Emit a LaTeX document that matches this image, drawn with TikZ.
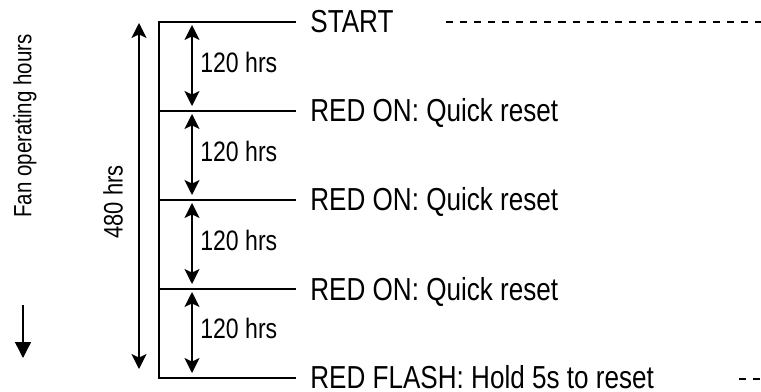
\documentclass[tikz,border=0pt]{standalone}
\usepackage{fontspec}
\setmainfont{Liberation Sans}[FakeStretch=0.82]
\usepackage{tikz}
\usetikzlibrary{arrows.meta, positioning}
\tikzset{%
	mark label/.style={
		inner sep=0pt,
		anchor=base west,
		font=\fontsize{18.1}{20}\selectfont
	},
	span label/.style={
		inner sep=0pt,
		anchor=west,
		font=\fontsize{16}{18}\selectfont
	},
	time line/.style={
		line width=1.5pt
	},
	span arrow/.style={
		line width=0.8pt,
		{Stealth[length=8.5pt,width=8.5pt,inset=2pt]}-{Stealth[length=8.5pt,width=8.5pt,inset=2pt]}
	},
	ghost line/.style={
		line width=0.9pt,
		dash pattern=on 4pt off 4pt
	},
}
\begin{document}
\begin{tikzpicture}
			\useasboundingbox (0,0) rectangle (15.22,7.82);
			
			% Time axis and its marks
			\coordinate (t0) at (3.18,7.38);
			\coordinate (t1) at (3.18,5.60);
			\coordinate (t2) at (3.18,3.82);
			\coordinate (t3) at (3.18,2.04);
			\coordinate (t4) at (3.18,0.26);
			\coordinate (e0) at (5.92,7.38);
			\coordinate (e1) at (5.92,5.60);
			\coordinate (e2) at (5.92,3.82);
			\coordinate (e3) at (5.92,2.04);
			\coordinate (e4) at (5.92,0.26);
			\draw[time line] (e0) -- (t0) -- (t4) -- (e4);
			\draw[time line] (t1) -- (e1);
			\draw[time line] (t2) -- (e2);
			\draw[time line] (t3) -- (e3);
			
			\node[mark label] (start) at (6.2,7.16) {START};
			\node[mark label] (red1) at (6.2,5.38) {RED ON: Quick reset};
			\node[mark label] (red2) at (6.2,3.60) {RED ON: Quick reset};
			\node[mark label] (red3) at (6.2,1.82) {RED ON: Quick reset};
			\node[mark label] (flash) at (6.2,0.06) {RED FLASH: Hold 5s to reset};
			
			% Dashed guides on the right
			\coordinate (g0) at (8.92,7.38);
			\coordinate (g0e) at (15.22,7.38);
			\coordinate (g4) at (14.78,0.24);
			\coordinate (g4e) at (15.22,0.24);
			\draw[ghost line] (g0) -- (g0e);
			\draw[ghost line] (g4) -- (g4e);
			
			% The four 120 hrs spans
			\coordinate (s0a) at (3.84,7.32);
			\coordinate (s0b) at (3.84,5.70);
			\coordinate (s1a) at (3.84,5.54);
			\coordinate (s1b) at (3.84,3.92);
			\coordinate (s2a) at (3.84,3.76);
			\coordinate (s2b) at (3.84,2.14);
			\coordinate (s3a) at (3.84,1.98);
			\coordinate (s3b) at (3.84,0.36);
			\draw[span arrow] (s0a) -- (s0b);
			\draw[span arrow] (s1a) -- (s1b);
			\draw[span arrow] (s2a) -- (s2b);
			\draw[span arrow] (s3a) -- (s3b);
			\node[span label] (h0) at (4.0,6.58) {120 hrs};
			\node[span label] (h1) at (4.0,4.80) {120 hrs};
			\node[span label] (h2) at (4.0,3.02) {120 hrs};
			\node[span label] (h3) at (4.0,1.26) {120 hrs};
			
			% Whole run
			\coordinate (w0) at (2.78,7.36);
			\coordinate (w1) at (2.78,0.44);
			\draw[span arrow] (w0) -- (w1);
			\node[inner sep=0pt, rotate=90, font=\fontsize{15.2}{17}\selectfont] (total) at (2.26,3.78) {480 hrs};
			
			% Axis caption
			\node[inner sep=0pt, rotate=90, font=\fontsize{14.2}{16}\selectfont] (caption) at (0.50,5.30) {Fan operating hours};
			\coordinate (a0) at (0.46,1.72);
			\coordinate (a1) at (0.46,0.66);
			\draw[line width=0.8pt, -{Triangle[length=9pt,width=9pt]}] (a0) -- (a1);
			
		\end{tikzpicture}
\end{document}
